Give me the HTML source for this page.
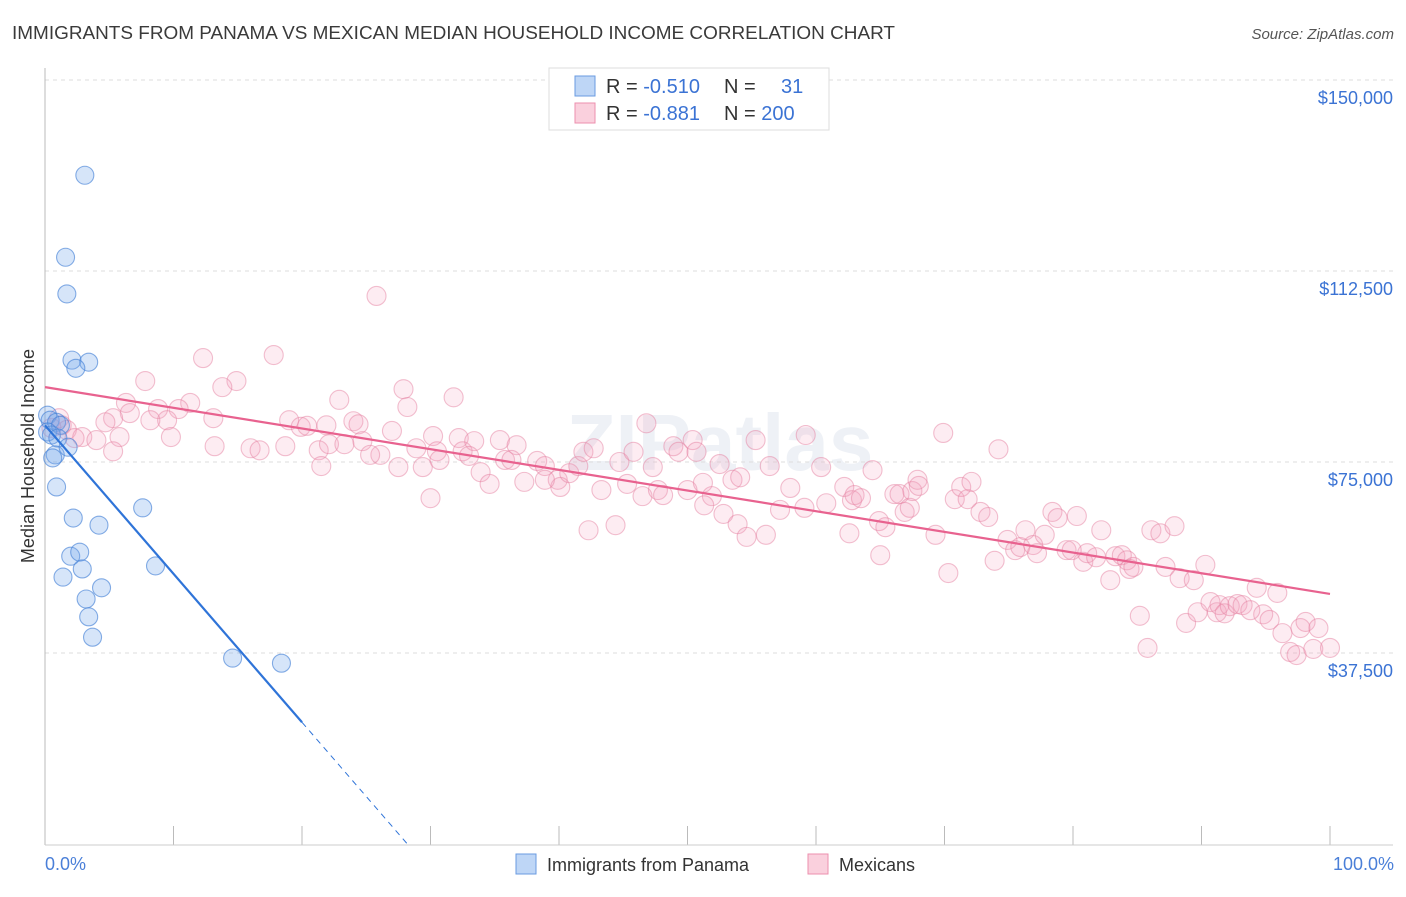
<!DOCTYPE html>
<html><head><meta charset="utf-8"><style>
body{margin:0;background:#fff;font-family:"Liberation Sans",sans-serif;}
svg text{font-family:"Liberation Sans",sans-serif;}
</style></head><body>
<svg id="c" width="1406" height="892" xmlns="http://www.w3.org/2000/svg">
<text x="12" y="39" font-size="18" fill="#3a3a3a" textLength="883" lengthAdjust="spacingAndGlyphs">IMMIGRANTS FROM PANAMA VS MEXICAN MEDIAN HOUSEHOLD INCOME CORRELATION CHART</text>
<text x="1394" y="39" font-size="15" fill="#555" font-style="italic" text-anchor="end">Source: ZipAtlas.com</text>
<text x="720" y="470" font-size="80" fill="#eef1f6" text-anchor="middle" font-weight="bold">ZIPatlas</text>
<g id="grid"></g>
<line x1="45" y1="68" x2="45" y2="845" stroke="#bbb"/>
<line x1="45" y1="845" x2="1393" y2="845" stroke="#ccc"/>
<text transform="translate(34,456) rotate(-90)" font-size="18" fill="#333" text-anchor="middle">Median Household Income</text>
<text x="45" y="870" font-size="18" fill="#4a7fd8">0.0%</text>
<text x="1394" y="870" font-size="18" fill="#4a7fd8" text-anchor="end">100.0%</text>
<g id="pts"></g>
<g id="trend"></g>
<g>
<rect x="549" y="68" width="280" height="62" fill="#fff" stroke="#ddd"/>
<rect x="575" y="76" width="20" height="20" fill="rgba(110,165,235,0.45)" stroke="#6a9be0"/>
<rect x="575" y="103" width="20" height="20" fill="rgba(245,150,180,0.45)" stroke="#ec8fae"/>
<text x="606" y="93" font-size="20" fill="#333">R = <tspan fill="#3b73d4">-0.510</tspan></text>
<text x="724" y="93" font-size="20" fill="#333">N = <tspan x="781" fill="#3b73d4">31</tspan></text>
<text x="606" y="120" font-size="20" fill="#333">R = <tspan fill="#3b73d4">-0.881</tspan></text>
<text x="724" y="120" font-size="20" fill="#333">N = <tspan fill="#3b73d4">200</tspan></text>
</g>
<rect x="516" y="854" width="20" height="20" fill="rgba(110,165,235,0.45)" stroke="#6a9be0"/>
<text x="547" y="871" font-size="18" fill="#333">Immigrants from Panama</text>
<rect x="808" y="854" width="20" height="20" fill="rgba(245,150,180,0.45)" stroke="#ec8fae"/>
<text x="839" y="871" font-size="18" fill="#333">Mexicans</text>
</svg>
<script>
const yTicks=[37500,75000,112500,150000];
const yTickLabels=["$37,500","$75,000","$112,500","$150,000"];
const xTicks=[0,10,20,30,40,50,60,70,80,90,100];
const panamaX=[3.1,1.6,1.7,2.1,3.4,2.4,0.2,0.4,0.9,1.2,0.2,0.5,1.0,0.8,1.8,0.6,0.9,2.2,4.2,7.6,2.0,2.7,2.9,1.4,8.6,4.4,3.2,3.4,3.7,14.6,18.4];
const panamaY=[131.3,115.2,108.0,95.0,94.6,93.4,84.2,83.2,82.8,82.2,80.9,80.3,79.7,76.4,77.9,75.8,70.1,64.0,62.6,66.0,56.5,57.3,54.0,52.4,54.6,50.3,48.1,44.6,40.6,36.5,35.5];
const mexX=[25.8,17.8,12.3,7.8,14.9,13.8,27.9,31.8,22.9,28.2,6.3,8.8,11.3,10.4,6.6,13.1,9.5,8.2,5.3,4.7,1.1,1.3,1.7,0.5,2.9,4.0,5.8,5.3,2.3,9.8,13.2,16.0,16.7,19.0,19.9,20.4,21.9,18.7,21.3,21.5,22.1,23.3,24.0,24.4,24.7,26.1,27.0,28.9,25.3,27.5,29.4,30.0,30.2,30.5,32.2,32.5,33.4,33.0,33.9,34.6,35.4,35.8,36.7,36.3,37.3,38.3,38.9,39.9,40.1,40.8,41.5,41.9,42.7,42.3,43.3,44.4,44.7,45.3,45.8,46.5,46.8,47.3,47.7,48.1,48.9,49.3,50.4,50.0,51.2,51.9,51.3,52.5,52.8,53.5,54.1,53.9,54.6,55.3,56.1,56.4,57.2,58.0,59.1,59.2,60.4,60.8,62.2,62.6,62.8,63.0,63.5,64.4,64.9,65.4,66.1,66.5,66.9,67.3,67.5,67.9,68.0,69.3,69.9,70.3,70.8,71.3,71.8,72.1,72.8,73.4,73.9,74.2,74.9,75.5,75.9,76.3,76.9,77.2,77.8,78.4,78.8,79.5,80.3,80.8,81.1,81.8,82.2,82.9,83.3,83.8,84.2,84.4,84.7,85.2,85.8,86.1,86.8,87.2,87.9,88.3,88.8,89.4,89.7,90.3,90.7,91.2,91.4,91.8,92.2,92.8,93.2,94.3,94.8,95.3,95.9,96.3,96.9,97.4,97.7,98.1,98.7,99.1,100,93.8,79.9,65.0,50.7,38.9,30.7];
const mexY=[107.6,96.0,95.4,90.9,90.9,89.7,89.3,87.7,87.2,85.8,86.6,85.4,86.6,85.4,84.6,83.6,83.2,83.2,83.6,82.8,83.6,82.2,81.3,81.7,79.9,79.3,79.9,77.1,79.7,79.9,78.1,77.7,77.3,83.2,81.9,82.1,82.2,78.1,77.3,74.2,78.5,78.5,83.0,82.4,79.1,76.4,81.1,77.7,76.4,74.0,74.0,67.9,80.1,77.1,79.7,77.1,79.1,76.2,73.0,70.7,79.3,75.4,78.3,75.4,71.1,75.2,74.2,71.5,70.1,72.8,74.2,77.0,77.7,61.6,69.5,62.6,75.0,70.7,77.0,68.3,82.6,74.0,69.5,68.5,78.1,77.0,79.3,69.5,70.9,68.3,66.5,74.6,64.8,71.5,72.0,62.8,60.3,79.3,60.7,74.2,65.6,69.9,66.0,80.3,74.0,66.9,70.1,61.0,67.5,68.5,67.9,73.4,63.4,62.2,68.7,68.7,65.2,66.0,69.3,71.5,70.3,60.7,80.7,53.2,67.7,70.1,67.7,71.1,65.2,64.2,55.6,77.5,59.7,57.7,58.3,61.6,58.7,57.1,60.7,65.2,64.0,57.7,64.4,55.4,57.1,56.3,61.6,51.8,56.5,56.7,55.7,54.0,54.4,44.8,38.5,61.6,61.0,54.4,62.4,52.2,43.4,51.8,45.5,54.8,47.5,45.5,46.9,45.3,46.7,47.1,46.9,50.3,45.1,44.0,49.3,41.4,37.7,37.1,42.4,43.6,38.3,42.4,38.5,45.9,57.7,56.7,77.0,71.5,75.4];
const mexTrend=[89.7,49.1];
const panamaTrend=[82.2,23.9,0];
const panamaTrendX=[0,20,28.2];

const NS="http://www.w3.org/2000/svg";
const X=v=>45+v*12.85;
const Y=v=>844-v/150000*764;
function mk(t,a,p){const e=document.createElementNS(NS,t);for(const k in a)e.setAttribute(k,a[k]);p.appendChild(e);return e;}
const grid=document.getElementById('grid');
yTicks.forEach((v,i)=>{
 const l=mk('line',{x1:45,x2:1393,y1:Y(v),y2:Y(v),stroke:'#ddd','stroke-dasharray':'4,4'},grid);
 
 
 const t=mk('text',{x:1393,y:Y(v)+24,'font-size':18,fill:'#3b73d4','text-anchor':'end'},grid);
 t.textContent=yTickLabels[i];
 
 
});
xTicks.forEach(v=>{
 const l=mk('line',{x1:X(v),x2:X(v),y1:826,y2:845,stroke:'#bbb'},grid);
 
 
});
const pts=document.getElementById('pts');
mexX.forEach((x,i)=>{
 const c=mk('circle',{cx:X(x),cy:Y(mexY[i]*1000),r:9.5,fill:'rgba(245,160,188,0.2)',stroke:'rgba(230,130,162,0.5)','stroke-width':1.1},pts);
 
 
});
panamaX.forEach((x,i)=>{
 const c=mk('circle',{cx:X(x),cy:Y(panamaY[i]*1000),r:9,fill:'rgba(120,170,235,0.3)',stroke:'rgba(70,130,215,0.65)','stroke-width':1.1},pts);
 
 
});
const tr=document.getElementById('trend');
const m=mk('line',{x1:X(0),y1:Y(mexTrend[0]*1000),x2:X(100),y2:Y(mexTrend[1]*1000),stroke:'#e8628f','stroke-width':2.2},tr);


const p1=mk('line',{x1:X(panamaTrendX[0]),y1:Y(panamaTrend[0]*1000),x2:X(panamaTrendX[1]),y2:Y(panamaTrend[1]*1000),stroke:'#2f74d8','stroke-width':2.2},tr);


const p2=mk('line',{x1:X(panamaTrendX[1]),y1:Y(panamaTrend[1]*1000),x2:X(panamaTrendX[2]),y2:Y(panamaTrend[2]*1000),stroke:'#2f74d8','stroke-width':1,'stroke-dasharray':'6,5'},tr);


</script>
</body></html>
